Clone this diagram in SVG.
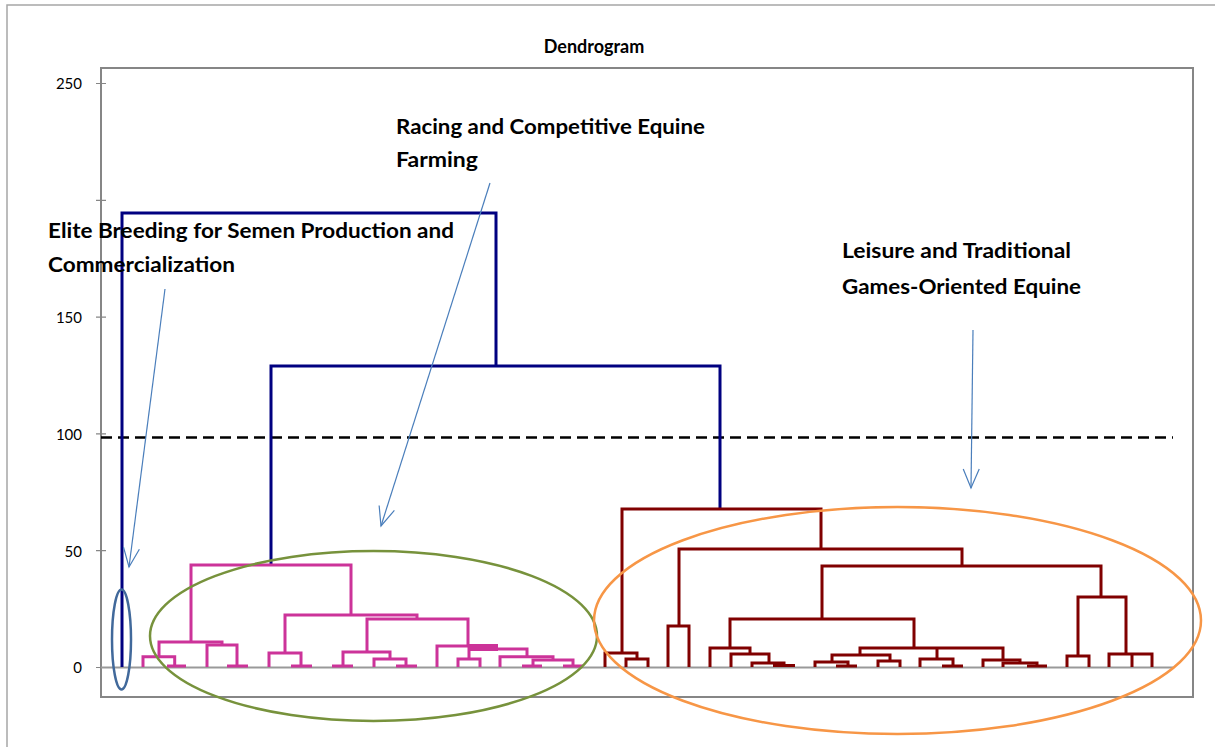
<svg xmlns="http://www.w3.org/2000/svg" width="1215" height="747" viewBox="0 0 1215 747">
<style>
.lbl{font-family:Lato,"Liberation Sans",sans-serif;font-weight:bold;font-size:20px;fill:#000}
.ax{font-family:Lato,"Liberation Sans",sans-serif;font-size:15px;fill:#000;text-anchor:end}
.pk{fill:none;stroke:#CC3399;stroke-width:3;stroke-linejoin:miter}
.rd{fill:none;stroke:#800000;stroke-width:3;stroke-linejoin:miter}
.nv{fill:none;stroke:#000080;stroke-width:3}
.arr{fill:none;stroke:#4A7EBB;stroke-width:1.2;marker-end:url(#ah)}
</style>
<defs>
<marker id="ah" viewBox="-22 -10 24 20" markerWidth="24" markerHeight="20" refX="0" refY="0" orient="auto" markerUnits="userSpaceOnUse">
<path d="M-19,-8 L0,0 L-19,8" fill="none" stroke="#4A7EBB" stroke-width="1.2"/>
</marker>
</defs>
<rect width="1215" height="747" fill="#fff"/>
<g id="frame">
<rect x="7" y="5" width="1220" height="760" fill="none" stroke="#A6A6A6" stroke-width="1.5"/>
<rect x="101" y="68" width="1092" height="629" fill="none" stroke="#868686" stroke-width="2"/>
<text x="594" y="53" text-anchor="middle" class="lbl" style="font-size:18px">Dendrogram</text>
</g>
<g id="axis">
<path d="M96,83.5H106M96,200.3H106M96,317.1H106M96,433.9H106M96,550.7H106M96,667.5H106" stroke="#868686" stroke-width="1.2"/>
<path d="M101,667.5H1173" stroke="#999" stroke-width="2"/>
<text class="ax" x="82" y="89">250</text>
<text class="ax" x="82" y="322.5">150</text>
<text class="ax" x="82" y="439.5">100</text>
<text class="ax" x="82" y="556.5">50</text>
<text class="ax" x="82" y="673">0</text>
</g>
<g id="cutline">
<path d="M101,437.5H1173" stroke="#000" stroke-width="2.5" stroke-dasharray="11,6"/>
</g>
<g id="connectors">
<g id="navy-tree">
<path class="nv" d="M122,667V213H496V366"/>
<path class="nv" d="M271,565V366H720V509"/>
</g>
<g id="pink-tree">
<path class="pk" d="M191,642V565H351V615"/>
<path class="pk" d="M159,656.7V642H222V645"/>
<path class="pk" d="M143,667V656.7H174.7V667"/>
<path class="pk" d="M167,666H186"/>
<path class="pk" d="M207,667V645H237V667"/>
<path class="pk" d="M227,666H248"/>
<path class="pk" d="M285,653V615H417V619"/>
<path class="pk" d="M269,667V653H301V667"/>
<path class="pk" d="M291,666H312"/>
<path class="pk" d="M367,652V619H468V645"/>
<path class="pk" d="M343,667V652H390V659"/>
<path class="pk" d="M332,666H353"/>
<path class="pk" d="M374,667V659H406V667"/>
<path class="pk" d="M396,666H417"/>
<path class="pk" d="M437,667V646H469V659"/>
<rect x="468" y="644" width="30" height="7" fill="#CC3399"/>
<path class="pk" d="M458,667V659H480V667"/>
<path class="pk" d="M498,649H527V656.7"/>
<path class="pk" d="M500,667V656.7H553V660"/>
<path class="pk" d="M533,667V660H573V667"/>
<path class="pk" d="M522,666H542M563,666H583"/>
</g>
<g id="red-tree">
<path class="rd" d="M622,653V509H821V549"/>
<path class="rd" d="M605,667V653H637V659"/>
<path class="rd" d="M626,667V659H648V667"/>
<path class="rd" d="M679,626V549H962V566"/>
<path class="rd" d="M668,667V626H689V667"/>
<path class="rd" d="M822,619V566H1101V597"/>
<path class="rd" d="M730,648V619H914V648"/>
<path class="rd" d="M710,667V648H750V654"/>
<path class="rd" d="M731,667V654H769V663"/>
<path class="rd" d="M752,667V663H784V667"/>
<path class="rd" d="M773,665.5H795" stroke-width="4"/>
<path class="rd" d="M860,655V648H1003V660"/>
<path class="rd" d="M832,662V655H890V661"/>
<path class="rd" d="M815,667V662H848V666"/>
<path class="rd" d="M836,666H857"/>
<path class="rd" d="M878,667V661H900V667"/>
<path class="rd" d="M937,648V659"/>
<path class="rd" d="M920,667V659H953V667"/>
<path class="rd" d="M942,666H963"/>
<path class="rd" d="M983,667V660H1020V663"/>
<path class="rd" d="M1003,667V663H1037V667"/>
<path class="rd" d="M1027,666H1047"/>
<path class="rd" d="M1078,656V597H1126V654"/>
<path class="rd" d="M1067,667V656H1089V667"/>
<path class="rd" d="M1109,667V654H1152V667M1132,654V667"/>
</g>
<g id="arrows">
<path class="arr" d="M165,289L129,567"/>
<path class="arr" d="M490,183L381,526"/>
<path class="arr" d="M973,330L971,488"/>
</g>
</g>
<g id="cluster-elite">
<ellipse cx="121.5" cy="639.5" rx="9.5" ry="50" fill="none" stroke="#41699B" stroke-width="2.5"/>
<text class="lbl" x="48" y="238" textLength="406" lengthAdjust="spacingAndGlyphs">Elite Breeding for Semen Production and</text>
<text class="lbl" x="48" y="272" textLength="187" lengthAdjust="spacingAndGlyphs">Commercialization</text>
</g>
<g id="cluster-racing">
<ellipse cx="373.5" cy="636" rx="223.5" ry="85" fill="none" stroke="#77923C" stroke-width="2.5"/>
<text class="lbl" x="396" y="134" textLength="309" lengthAdjust="spacingAndGlyphs">Racing and Competitive Equine</text>
<text class="lbl" x="396" y="167" textLength="82" lengthAdjust="spacingAndGlyphs">Farming</text>
</g>
<g id="cluster-leisure">
<ellipse cx="897.5" cy="620.5" rx="303.5" ry="113.5" fill="none" stroke="#F79646" stroke-width="2.5"/>
<text class="lbl" x="842" y="258" textLength="229" lengthAdjust="spacingAndGlyphs">Leisure and Traditional</text>
<text class="lbl" x="842" y="294" textLength="239" lengthAdjust="spacingAndGlyphs">Games-Oriented Equine</text>
</g>
</svg>
